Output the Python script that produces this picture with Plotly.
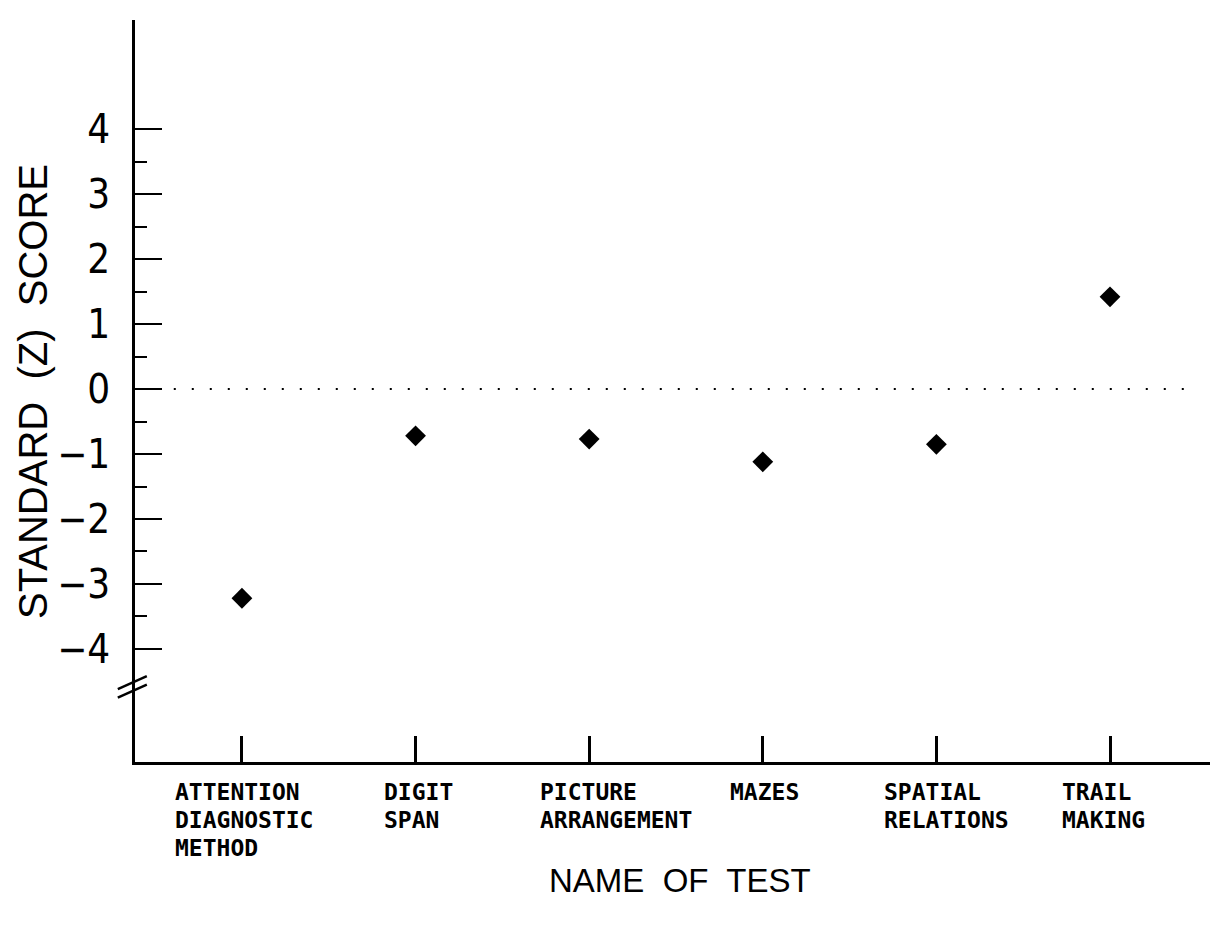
import plotly.graph_objects as go

# Test names (multi-line labels) and standard (Z) scores
tests = [
    "ATTENTION<br>DIAGNOSTIC<br>METHOD",
    "DIGIT<br>SPAN",
    "PICTURE<br>ARRANGEMENT",
    "MAZES",
    "SPATIAL<br>RELATIONS",
    "TRAIL<br>MAKING",
]
z_scores = [-3.22, -0.72, -0.77, -1.12, -0.85, 1.42]

y_tick_values = [-4, -3, -2, -1, 0, 1, 2, 3, 4]
y_tick_labels = ["\u22124", "\u22123", "\u22122", "\u22121", "0", "1", "2", "3", "4"]
y_minor_values = [-3.5, -2.5, -1.5, -0.5, 0.5, 1.5, 2.5, 3.5]

x_pos = list(range(len(tests)))
# per-label horizontal nudge (px) of the left-aligned label blocks
label_shift = [-69, -34, -51, -35, -54, -50]
LINE_GAP = 28  # px between label lines

fig = go.Figure()

fig.add_trace(go.Scatter(
    x=x_pos, y=z_scores, mode="markers",
    marker=dict(symbol="diamond", size=16, color="black", line=dict(width=0)),
    showlegend=False, hoverinfo="skip",
))

# dotted reference line at Z = 0
fig.add_shape(type="line", xref="x", yref="y", x0=-0.6, x1=5.43, y0=0, y1=0,
              line=dict(color="black", width=2, dash="2px,16px"))

# axis break marks on the y axis
for dy in (0.0, -0.13):
    fig.add_shape(type="line", xref="paper", yref="y",
                  x0=-0.016, x1=0.011, y0=-4.62 + dy, y1=-4.42 + dy,
                  line=dict(color="black", width=2.5))

# category labels: left-aligned text blocks under each tick
for xi, name, sh in zip(x_pos, tests, label_shift):
    for k, line in enumerate(name.split("<br>")):
        fig.add_annotation(
            x=xi, xref="x", y=0, yref="paper", yanchor="top", xanchor="left",
            xshift=sh, yshift=-15 - k * LINE_GAP, text=line, showarrow=False, align="left",
            font=dict(family="DejaVu Sans Mono, Liberation Mono", size=23,
                      color="black", weight="bold"),
        )

# y axis title
fig.add_annotation(
    x=-0.095, xref="paper", y=0.5, yref="paper", xanchor="center", yanchor="middle",
    text="STANDARD  (Z)  SCORE", textangle=-90, showarrow=False,
    font=dict(family="Liberation Sans, Arial", size=40, color="black"),
)

# x axis title
fig.add_annotation(
    x=0.507, xref="paper", y=0, yref="paper", xanchor="center", yanchor="middle",
    yshift=-118, text="NAME  OF  TEST", showarrow=False,
    font=dict(family="Liberation Sans, Arial", size=33, color="black"),
)

fig.update_xaxes(
    range=[-0.616, 5.576], tickvals=x_pos, showticklabels=False,
    ticks="inside", ticklen=26, tickwidth=2.5, tickcolor="black",
    showline=True, linecolor="black", linewidth=2.5,
    showgrid=False, zeroline=False,
)
fig.update_yaxes(
    range=[-5.74, 5.68], tickvals=y_tick_values, ticktext=y_tick_labels,
    ticks="inside", ticklen=27, tickwidth=2, tickcolor="black",
    ticklabelstandoff=14,
    tickfont=dict(family="DejaVu Sans Condensed, Liberation Sans Narrow, Liberation Sans",
                  size=40, color="black"),
    minor=dict(tickvals=y_minor_values, ticks="inside", ticklen=12, tickwidth=2, tickcolor="black"),
    showline=True, linecolor="black", linewidth=2.5,
    showgrid=False, zeroline=False,
)

fig.update_layout(
    width=1211, height=925,
    margin=dict(l=135, r=1, t=20, b=163),
    paper_bgcolor="white", plot_bgcolor="white",
)

fig.write_html("out.html")
